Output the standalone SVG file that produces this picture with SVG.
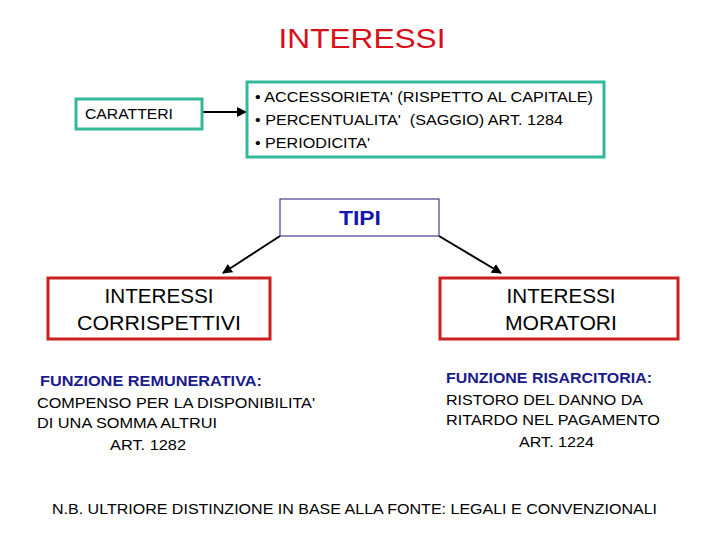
<svg xmlns="http://www.w3.org/2000/svg" width="720" height="540" viewBox="0 0 720 540">
<defs>
<style>
text{font-family:"Liberation Sans",Arial,sans-serif;fill:#000}
.teal{fill:#fff;stroke:#33b89a;stroke-width:3}
.red{fill:#fff;stroke:#cc1f1f;stroke-width:3}
.b{font-size:15.5px}
.m{font-size:21px;text-anchor:middle}
.f{font-size:14px;font-weight:bold;fill:#1a1a8c}
.s{font-size:15.5px}
.conn{stroke:#000;stroke-width:2;fill:none;marker-end:url(#ah)}
</style>
<marker id="ah" viewBox="0 0 10 10" refX="9" refY="5" markerWidth="5" markerHeight="5" orient="auto-start-reverse" markerUnits="strokeWidth">
<path d="M0,0 L10,5 L0,10 z" fill="#000"/>
</marker>
</defs>
<rect width="720" height="540" fill="#fff"/>
<text x="362" y="48" font-size="28" text-anchor="middle" textLength="167" lengthAdjust="spacingAndGlyphs" style="fill:#d80f1a">INTERESSI</text>

<g id="connectors">
<line class="conn" x1="203" y1="112" x2="246" y2="112"/>
<line class="conn" x1="280" y1="236" x2="223" y2="273"/>
<line class="conn" x1="439" y1="236" x2="501" y2="273"/>
</g>

<g id="caratteri">
<rect class="teal" x="76" y="99" width="126" height="30"/>
<text class="b" x="85" y="119" textLength="88" lengthAdjust="spacingAndGlyphs">CARATTERI</text>
</g>

<g id="list">
<rect class="teal" x="247" y="82" width="357" height="75"/>
<text class="b" x="255" y="102" textLength="338" lengthAdjust="spacingAndGlyphs">• ACCESSORIETA' (RISPETTO AL CAPITALE)</text>
<text class="b" x="255" y="125" textLength="308" lengthAdjust="spacingAndGlyphs" xml:space="preserve">• PERCENTUALITA'  (SAGGIO) ART. 1284</text>
<text class="b" x="255" y="148" textLength="115" lengthAdjust="spacingAndGlyphs">• PERIODICITA'</text>
</g>

<g id="tipi">
<rect x="280" y="199" width="159" height="37" fill="#fff" stroke="#1a1a7a" stroke-width="1"/>
<text x="360" y="225" font-size="21" font-weight="bold" text-anchor="middle" textLength="42" lengthAdjust="spacingAndGlyphs" style="fill:#1515b0">TIPI</text>
</g>

<g id="corrispettivi">
<rect class="red" x="48" y="278" width="222" height="61"/>
<text class="m" x="159" y="303" textLength="109" lengthAdjust="spacingAndGlyphs">INTERESSI</text>
<text class="m" x="159" y="330" textLength="164" lengthAdjust="spacingAndGlyphs">CORRISPETTIVI</text>
</g>

<g id="moratori">
<rect class="red" x="440" y="278" width="238" height="61"/>
<text class="m" x="561" y="303" textLength="109" lengthAdjust="spacingAndGlyphs">INTERESSI</text>
<text class="m" x="561" y="330" textLength="112" lengthAdjust="spacingAndGlyphs">MORATORI</text>
</g>

<g id="remunerativa">
<text class="f" x="40" y="386" textLength="222" lengthAdjust="spacingAndGlyphs">FUNZIONE REMUNERATIVA:</text>
<text class="s" x="37" y="408" textLength="278" lengthAdjust="spacingAndGlyphs">COMPENSO PER LA DISPONIBILITA'</text>
<text class="s" x="37" y="428" textLength="180" lengthAdjust="spacingAndGlyphs">DI UNA SOMMA ALTRUI</text>
<text class="s" x="110" y="450" textLength="76" lengthAdjust="spacingAndGlyphs">ART. 1282</text>
</g>

<g id="risarcitoria">
<text class="f" x="446" y="383" textLength="206" lengthAdjust="spacingAndGlyphs">FUNZIONE RISARCITORIA:</text>
<text class="s" x="446" y="405" textLength="197" lengthAdjust="spacingAndGlyphs">RISTORO DEL DANNO DA</text>
<text class="s" x="446" y="425" textLength="214" lengthAdjust="spacingAndGlyphs">RITARDO NEL PAGAMENTO</text>
<text class="s" x="519" y="447" textLength="75" lengthAdjust="spacingAndGlyphs">ART. 1224</text>
</g>

<text class="s" x="52" y="514" textLength="605" lengthAdjust="spacingAndGlyphs">N.B. ULTRIORE DISTINZIONE IN BASE ALLA FONTE: LEGALI E CONVENZIONALI</text>
</svg>
